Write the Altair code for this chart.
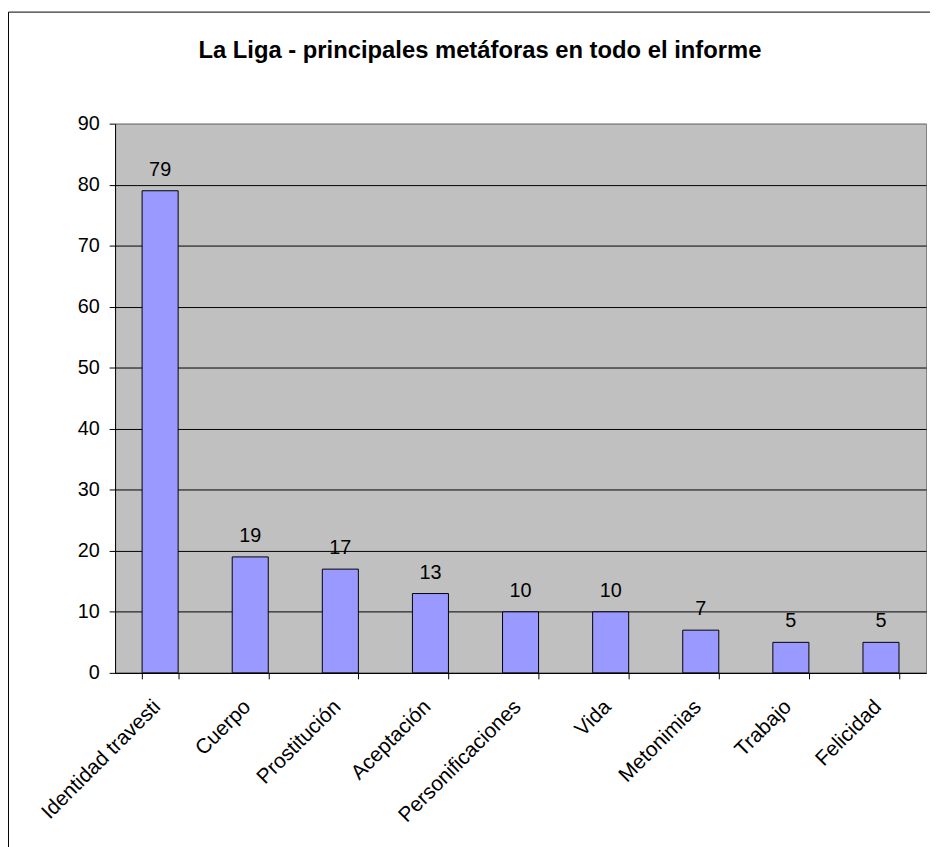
import altair as alt
import pandas as pd

categories = ["Identidad travesti", "Cuerpo", "Prostitución", "Aceptación",
              "Personificaciones", "Vida", "Metonimias", "Trabajo", "Felicidad"]
values = [79, 19, 17, 13, 10, 10, 7, 5, 5]
y_ticks = [0, 10, 20, 30, 40, 50, 60, 70, 80, 90]
title_text = "La Liga - principales metáforas en todo el informe"

df = pd.DataFrame({"cat": categories, "val": values})
FONT = "Liberation Sans"

x_enc = alt.X(
    "cat:N", sort=categories, title=None,
    scale=alt.Scale(paddingInner=0.6, paddingOuter=0.3),
    axis=alt.Axis(labelAngle=-45, labelFontSize=21, labelFont=FONT, labelColor="black",
                  labelAlign="right", labelBaseline="top", labelOffset=-11, labelPadding=17,
                  tickBand="extent", tickSize=6, tickColor="black", domainColor="black",
                  labelLimit=300),
)
y_enc = alt.Y(
    "val:Q", title=None,
    scale=alt.Scale(domain=[0, 90], nice=False),
    axis=alt.Axis(values=y_ticks, labelFontSize=20, labelFont=FONT, labelColor="black",
                  tickSize=6, tickColor="black", domainColor="black", labelPadding=10,
                  grid=True,
                  gridColor={"condition": {"test": "datum.value === 90", "value": "#808080"},
                             "value": "black"},
                  gridOpacity=1),
)

base = alt.Chart(df)
bars = base.mark_bar(color="#9999FF", stroke="black", strokeWidth=1).encode(x=x_enc, y=y_enc)
labels = base.mark_text(baseline="alphabetic", dy=-15, fontSize=20, font=FONT, color="black").encode(
    x=alt.X("cat:N", sort=categories), y="val:Q", text="val:Q")

one = alt.Chart(pd.DataFrame({"t": [title_text]}))
title = one.mark_text(fontSize=24, fontWeight="bold", font=FONT, color="black",
                      align="center", baseline="alphabetic").encode(
    text="t:N", x=alt.value(368), y=alt.value(-66))
border_left = one.mark_rule(color="black", strokeWidth=1).encode(
    x=alt.value(-107.5), y=alt.value(-112.5), y2=alt.value(800))
border_top = one.mark_rule(color="black", strokeWidth=1).encode(
    x=alt.value(-107.5), x2=alt.value(900), y=alt.value(-112.5))

chart = alt.layer(bars, labels, title, border_left, border_top).properties(
    width=818, height=554,
    autosize=alt.AutoSizeParams(type="none"),
    padding={"left": 108, "top": 113, "right": 4, "bottom": 172},
).configure_view(fill="#C0C0C0", stroke="#808080", strokeWidth=1)

chart.save("out.html", embed_options={"renderer": "svg", "actions": False})
